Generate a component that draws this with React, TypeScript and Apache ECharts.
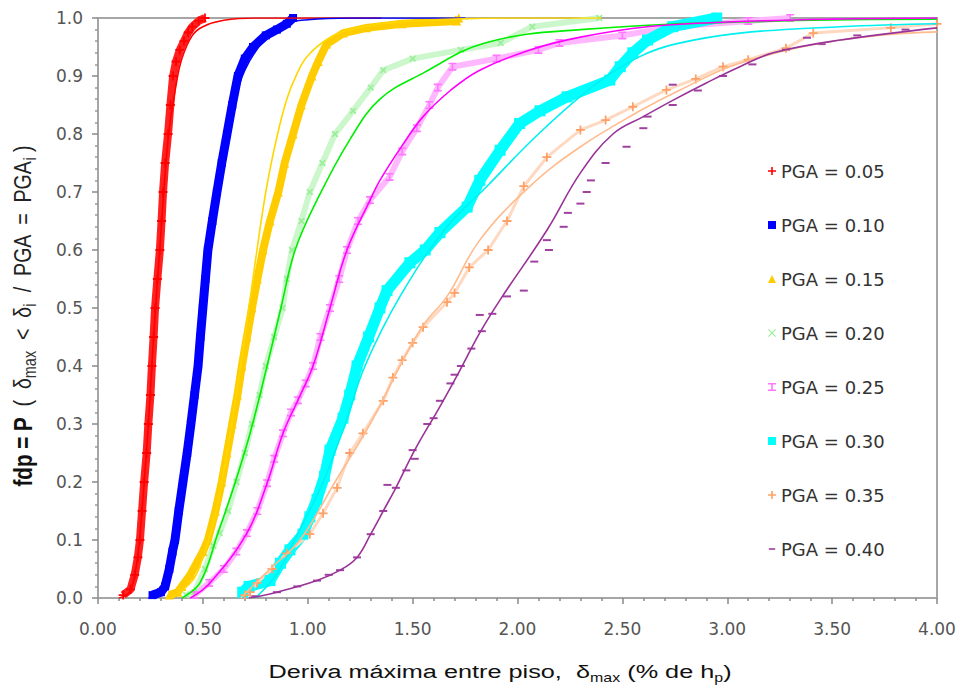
import React, { useEffect, useRef } from "react";
import * as echarts from "echarts";

// ---------- data ----------
const seriesNames = [
  "PGA = 0.05", "PGA = 0.10", "PGA = 0.15", "PGA = 0.20",
  "PGA = 0.25", "PGA = 0.30", "PGA = 0.35", "PGA = 0.40",
];

const xTickValues = [0, 0.5, 1, 1.5, 2, 2.5, 3, 3.5, 4];
const yTickValues = [0, 0.1, 0.2, 0.3, 0.4, 0.5, 0.6, 0.7, 0.8, 0.9, 1.0];

// empirical points [drift %, probability]
const pga005Points = [[0.12,0.005],[0.155,0.015],[0.175,0.04],[0.19,0.07],[0.2,0.1],[0.21,0.15],[0.22,0.2],[0.232,0.25],[0.24,0.3],[0.25,0.35],[0.257,0.4],[0.265,0.45],[0.272,0.5],[0.283,0.55],[0.295,0.6],[0.303,0.65],[0.31,0.7],[0.32,0.75],[0.334,0.8],[0.345,0.85],[0.358,0.9],[0.372,0.925],[0.39,0.945],[0.41,0.96],[0.43,0.975],[0.45,0.985],[0.48,0.995],[0.51,1.0]];
const pga010Points = [[0.26,0.005],[0.3,0.01],[0.32,0.02],[0.34,0.05],[0.355,0.08],[0.367,0.1],[0.385,0.15],[0.405,0.2],[0.425,0.25],[0.443,0.3],[0.46,0.35],[0.477,0.4],[0.488,0.45],[0.5,0.5],[0.512,0.55],[0.524,0.6],[0.545,0.65],[0.567,0.7],[0.59,0.75],[0.615,0.8],[0.64,0.85],[0.667,0.9],[0.7,0.93],[0.739,0.95],[0.8,0.97],[0.853,0.98],[0.9,0.99],[0.93,1.0]];
const pga015Points = [[0.34,0.005],[0.38,0.01],[0.4,0.02],[0.44,0.04],[0.47,0.06],[0.5,0.08],[0.524,0.1],[0.56,0.15],[0.59,0.2],[0.615,0.25],[0.64,0.3],[0.665,0.35],[0.686,0.4],[0.71,0.45],[0.734,0.5],[0.76,0.55],[0.787,0.6],[0.82,0.65],[0.86,0.7],[0.89,0.75],[0.93,0.8],[0.97,0.85],[1.02,0.9],[1.05,0.925],[1.09,0.955],[1.17,0.974],[1.28,0.983],[1.45,0.99],[1.71,0.995],[1.72,1.0]];
const pga020Points = [[0.42,0.005],[0.46,0.01],[0.51,0.05],[0.55,0.09],[0.58,0.112],[0.62,0.15],[0.66,0.2],[0.7,0.25],[0.734,0.3],[0.77,0.35],[0.8,0.4],[0.84,0.45],[0.88,0.5],[0.9,0.55],[0.925,0.6],[0.97,0.65],[1.01,0.7],[1.07,0.75],[1.13,0.8],[1.216,0.84],[1.3,0.88],[1.36,0.91],[1.5,0.93],[1.73,0.945],[1.92,0.957],[2.07,0.985],[2.39,1.0]];
const pga025Points = [[0.46,0.005],[0.53,0.026],[0.6,0.05],[0.66,0.08],[0.71,0.112],[0.76,0.15],[0.806,0.198],[0.84,0.24],[0.882,0.284],[0.92,0.32],[0.953,0.341],[0.99,0.37],[1.025,0.4],[1.06,0.45],[1.106,0.5],[1.15,0.55],[1.187,0.6],[1.24,0.65],[1.297,0.686],[1.39,0.726],[1.45,0.77],[1.52,0.81],[1.58,0.85],[1.62,0.88],[1.69,0.916],[1.9,0.93],[2.1,0.945],[2.2,0.957],[2.5,0.97],[2.75,0.985],[3.1,0.995],[3.3,1.0]];
const pga030Points = [[0.69,0.01],[0.72,0.02],[0.82,0.03],[0.87,0.06],[0.915,0.083],[0.977,0.11],[1.01,0.14],[1.044,0.17],[1.08,0.21],[1.106,0.255],[1.168,0.31],[1.2,0.35],[1.235,0.4],[1.29,0.45],[1.344,0.5],[1.378,0.53],[1.487,0.578],[1.56,0.6],[1.63,0.63],[1.76,0.674],[1.82,0.72],[1.917,0.772],[2.01,0.818],[2.107,0.84],[2.236,0.864],[2.44,0.893],[2.49,0.916],[2.55,0.94],[2.62,0.962],[2.74,0.985],[2.95,1.0]];
const pga035Points = [[0.7,0.005],[0.725,0.01],[0.758,0.026],[0.83,0.05],[0.9,0.077],[1.01,0.11],[1.073,0.146],[1.14,0.19],[1.2,0.25],[1.263,0.284],[1.36,0.34],[1.406,0.38],[1.45,0.41],[1.5,0.44],[1.55,0.467],[1.664,0.51],[1.7,0.526],[1.77,0.57],[1.86,0.6],[1.95,0.65],[2.03,0.71],[2.14,0.76],[2.3,0.807],[2.42,0.824],[2.55,0.847],[2.71,0.876],[2.85,0.895],[2.98,0.916],[3.1,0.928],[3.28,0.948],[3.41,0.974],[3.78,0.983],[4.0,0.99]];
const pga040Points = [[0.75,0.003],[0.853,0.01],[0.95,0.02],[1.044,0.03],[1.1,0.04],[1.154,0.048],[1.235,0.07],[1.3,0.11],[1.36,0.15],[1.38,0.195],[1.42,0.19],[1.47,0.22],[1.5,0.255],[1.51,0.24],[1.57,0.3],[1.6,0.31],[1.63,0.34],[1.68,0.37],[1.7,0.385],[1.73,0.4],[1.78,0.43],[1.82,0.488],[1.83,0.46],[1.88,0.49],[1.95,0.52],[2.03,0.53],[2.08,0.58],[2.14,0.617],[2.15,0.6],[2.22,0.64],[2.24,0.664],[2.3,0.68],[2.33,0.7],[2.35,0.72],[2.42,0.75],[2.52,0.778],[2.6,0.81],[2.62,0.83],[2.74,0.85],[2.74,0.885],[2.86,0.875],[2.98,0.9],[3.12,0.92],[3.28,0.945],[3.38,0.966],[3.45,0.955],[3.62,0.97],[3.85,0.98]];

// fitted curves [drift %, probability]
const pga005Fit = [[0.1,0.0],[0.15,0.01],[0.18,0.05],[0.2,0.11],[0.22,0.2],[0.24,0.3],[0.26,0.42],[0.28,0.53],[0.3,0.63],[0.32,0.73],[0.34,0.81],[0.37,0.88],[0.4,0.93],[0.45,0.97],[0.5,0.985],[0.6,0.996],[0.75,1.0],[1.35,1.0]];
const pga010Fit = [[0.24,0.0],[0.3,0.01],[0.35,0.06],[0.4,0.19],[0.45,0.33],[0.5,0.49],[0.55,0.64],[0.6,0.76],[0.65,0.85],[0.7,0.91],[0.8,0.965],[0.9,0.99],[1.0,0.997],[1.2,1.0],[1.75,1.0]];
const pga015Fit = [[0.35,0.0],[0.45,0.03],[0.5,0.07],[0.55,0.13],[0.6,0.22],[0.65,0.33],[0.7,0.45],[0.75,0.58],[0.8,0.7],[0.85,0.79],[0.9,0.86],[0.95,0.905],[1.0,0.935],[1.1,0.965],[1.2,0.98],[1.4,0.992],[1.7,0.998],[2.0,1.0],[2.4,1.0]];
const pga020Fit = [[0.4,0.0],[0.486,0.026],[0.572,0.112],[0.653,0.198],[0.725,0.284],[0.806,0.4],[0.872,0.5],[0.94,0.6],[1.044,0.686],[1.2,0.79],[1.344,0.86],[1.55,0.905],[1.845,0.957],[2.3,0.98],[3.25,0.995],[4.0,0.998]];
const pga025Fit = [[0.44,0.0],[0.534,0.026],[0.71,0.112],[0.806,0.198],[0.882,0.284],[0.953,0.341],[1.025,0.4],[1.106,0.5],[1.187,0.6],[1.297,0.686],[1.344,0.72],[1.45,0.78],[1.55,0.83],[1.68,0.875],[1.82,0.91],[2.06,0.945],[2.3,0.967],[2.62,0.985],[3.0,0.993],[3.5,0.998],[4.0,1.0]];
const pga030Fit = [[0.75,0.0],[0.85,0.04],[0.93,0.095],[1.073,0.2],[1.178,0.3],[1.273,0.4],[1.44,0.52],[1.664,0.64],[1.855,0.71],[2.1,0.8],[2.38,0.888],[2.58,0.933],[2.75,0.955],[3.06,0.974],[3.54,0.985],[4.0,0.99]];
const pga035Fit = [[0.68,0.0],[0.82,0.05],[0.963,0.1],[1.13,0.2],[1.297,0.3],[1.44,0.4],[1.55,0.47],[1.664,0.52],[1.82,0.617],[2.06,0.71],[2.3,0.778],[2.584,0.84],[2.775,0.876],[3.06,0.922],[3.54,0.962],[4.0,0.976]];
const pga040Fit = [[0.72,0.0],[0.853,0.01],[1.044,0.03],[1.154,0.048],[1.235,0.07],[1.3,0.11],[1.36,0.15],[1.42,0.19],[1.51,0.255],[1.63,0.33],[1.726,0.393],[1.82,0.457],[1.917,0.514],[2.14,0.634],[2.3,0.733],[2.455,0.8],[2.6,0.83],[2.74,0.858],[2.9,0.888],[3.06,0.916],[3.22,0.94],[3.54,0.962],[4.0,0.983]];

const pointSets = [pga005Points, pga010Points, pga015Points, pga020Points, pga025Points, pga030Points, pga035Points, pga040Points];
const fitSets = [pga005Fit, pga010Fit, pga015Fit, pga020Fit, pga025Fit, pga030Fit, pga035Fit, pga040Fit];

// ---------- styles ----------
const PLUS = "path://M4,0H6V4H10V6H6V10H4V6H0V4H4Z";
const IBEAM = "path://M0,0H10V2H6V8H10V10H0V8H4V2H0Z";
const DASH = "path://M0,0L0,0M1,4H9V6H1ZM10,10L10,10";
const CROSS = "path://M1,0L5,4L9,0L10,1L6,5L10,9L9,10L5,6L1,10L0,9L4,5L0,1Z";

const looks = [
  { marker: "#ff0000", band: "#ff2020", bandWidth: 8, fit: "#ff0000", symbol: PLUS, size: 9, rotate: 0, icon: PLUS },
  { marker: "#0000ff", band: "#0000ff", bandWidth: 9, fit: "#0000ff", symbol: "rect", size: 8, rotate: 0, icon: "rect" },
  { marker: "#ffcc00", band: "#ffcc00", bandWidth: 8, fit: "#ffd700", symbol: "triangle", size: 9, rotate: 0, icon: "triangle" },
  { marker: "#99ee99", band: "#ccf7cc", bandWidth: 6, fit: "#00ee00", symbol: PLUS, size: 8, rotate: 45, icon: CROSS },
  { marker: "#ff77ff", band: "#ffb8ff", bandWidth: 6, fit: "#ff00ff", symbol: IBEAM, size: 8, rotate: 0, icon: IBEAM },
  { marker: "#00ffff", band: "#00ffff", bandWidth: 11, fit: "#00f0f0", symbol: "rect", size: 11, rotate: 0, icon: "rect" },
  { marker: "#ffa066", band: "#ffd8c0", bandWidth: 3, fit: "#ffbb8c", symbol: PLUS, size: 9, rotate: 0, icon: PLUS },
  { marker: "#a040a0", band: "#e8d0e8", bandWidth: 0, fit: "#993399", symbol: "rect", size: [8, 2], rotate: 0, icon: DASH },
];

const axisGray = "#a6a6a6";
const labelFont = "DejaVu Sans";

function buildOption() {
  const dataSeries = seriesNames.map((name, i) => ({
    name,
    type: "line",
    data: pointSets[i],
    symbol: looks[i].symbol,
    symbolSize: looks[i].size,
    symbolRotate: looks[i].rotate,
    showSymbol: true,
    itemStyle: { color: looks[i].marker },
    lineStyle: { color: looks[i].band, width: looks[i].bandWidth, opacity: looks[i].bandWidth > 0 ? 1 : 0 },
    clip: true,
    z: 2,
    emphasis: { disabled: true },
  }));
  const fitSeries = seriesNames.map((name, i) => ({
    name: "fit " + name,
    type: "line",
    data: fitSets[i],
    smooth: 0.4,
    symbol: "none",
    lineStyle: { color: looks[i].fit, width: 1.6 },
    clip: true,
    z: 3,
    emphasis: { disabled: true },
  }));

  return {
    animation: false,
    backgroundColor: "#ffffff",
    grid: {
      left: 98, right: 24, top: 18, bottom: 95,
      show: true, borderColor: axisGray, borderWidth: 2, backgroundColor: "transparent",
    },
    xAxis: {
      type: "value", min: 0, max: 4, interval: 0.5,
      axisLine: { show: true, lineStyle: { color: axisGray, width: 2 } },
      axisTick: { show: true, length: 6, lineStyle: { color: "#888", width: 1.5 } },
      minorTick: { show: true, splitNumber: 5, length: 3, lineStyle: { color: "#888", width: 1.5 } },
      splitLine: { show: false },
      axisLabel: {
        margin: 22, fontFamily: labelFont, fontSize: 17, color: "#555",
        formatter: (v: number) => (xTickValues.includes(v) ? v.toFixed(2) : ""),
      },
    },
    yAxis: {
      type: "value", min: 0, max: 1, interval: 0.1,
      axisLine: { show: true, lineStyle: { color: axisGray, width: 2 } },
      axisTick: { show: true, length: 6, lineStyle: { color: "#888", width: 1.5 } },
      minorTick: { show: true, splitNumber: 5, length: 3, lineStyle: { color: "#999", width: 1.5 } },
      splitLine: { show: false },
      axisLabel: {
        margin: 15, fontFamily: labelFont, fontSize: 17, color: "#555",
        formatter: (v: number) => {
          const t = yTickValues.find((y) => Math.abs(y - v) < 1e-6);
          return t === undefined ? "" : t.toFixed(1);
        },
      },
    },
    legend: {
      orient: "vertical",
      left: 763, top: 157,
      itemWidth: 8, itemHeight: 8, itemGap: 36,
      selectedMode: false,
      textStyle: { fontFamily: labelFont, fontSize: 18, color: "#333", lineHeight: 18 },
      data: seriesNames.map((n, i) => ({ name: n, icon: looks[i].icon })),
    },
    graphic: [
      {
        type: "text",
        x: 500, y: 672, scaleX: 1.33,
        style: {
          text: "{n|Deriva máxima entre piso,  δ}{s|max}{n| (% de h}{s|p}{n|)}",
          align: "center", verticalAlign: "middle",
          textAlign: "center", textVerticalAlign: "middle",
          fill: "#111",
          rich: {
            n: { fontFamily: "Liberation Sans", fontSize: 19, lineHeight: 24, fill: "#111" },
            s: { fontFamily: "Liberation Sans", fontSize: 12, lineHeight: 12, verticalAlign: "bottom", fill: "#111" },
          },
        },
      },
      {
        type: "text",
        x: 23, y: 316, rotation: Math.PI / 2, scaleX: 1.03, scaleY: 1.3,
        style: {
          text: "{b|fdp = P}{n|  (  δ}{s|max}{n|  <  δ}{s|i}{n|  /  PGA  =  PGA}{s|i}{n| )}",
          align: "center", verticalAlign: "middle",
          textAlign: "center", textVerticalAlign: "middle",
          fill: "#111",
          rich: {
            b: { fontFamily: "Liberation Sans", fontWeight: "bold", fontSize: 20, lineHeight: 24, fill: "#111" },
            n: { fontFamily: "Liberation Sans", fontSize: 19, lineHeight: 24, fill: "#222" },
            s: { fontFamily: "Liberation Sans", fontSize: 14, lineHeight: 14, verticalAlign: "bottom", fill: "#333" },
          },
        },
      },
    ],
    series: [...dataSeries, ...fitSeries],
  };
}

export default function App() {
  const ref = useRef<HTMLDivElement>(null);
  useEffect(() => {
    const chart = echarts.init(ref.current as HTMLDivElement, null, { renderer: "svg" });
    chart.setOption(buildOption() as any);
    return () => chart.dispose();
  }, []);
  return (
    <div
      ref={ref}
      style={{ position: "fixed", left: 0, top: 0, width: 961, height: 693, background: "#fff" }}
    />
  );
}
